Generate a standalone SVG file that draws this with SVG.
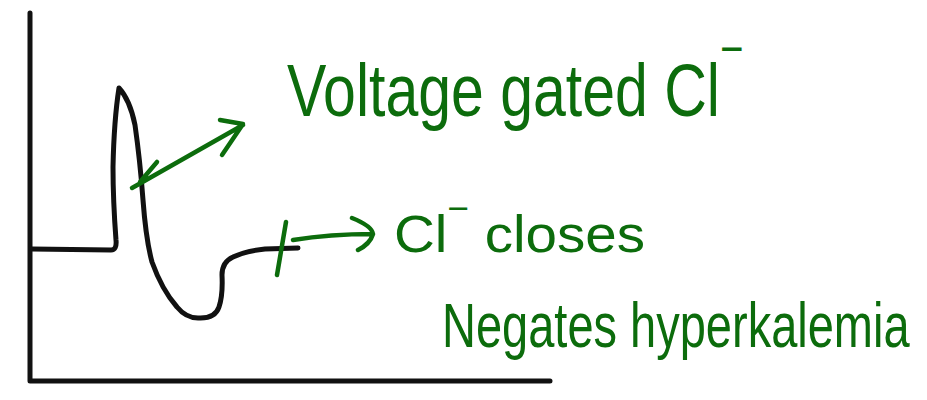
<svg xmlns="http://www.w3.org/2000/svg" width="927" height="400" viewBox="0 0 927 400">
<style>
.ink{fill:none;stroke:#111;stroke-width:5;stroke-linecap:round;stroke-linejoin:round}
.g{fill:none;stroke:#0c6c0c;stroke-width:4.5;stroke-linecap:round;stroke-linejoin:round}
.lbl{font-family:"Liberation Sans","DejaVu Sans",sans-serif;fill:#0c6c0c}
</style>
<rect width="927" height="400" fill="#fff"/>
<g id="axes">
<path class="ink" d="M30,13 L30,381 L550,381"/>
</g>
<g id="trace">
<path class="ink" d="M32,249 L111,250 Q117,250 116,240 Q113,200 113,167 Q114,120 119,88 Q130,100 135,125 Q140,160 143,200 Q146,240 152,262 Q162,290 177,307 Q186,318 198,318 Q215,319 219,307 Q223,295 222,275 Q222,262 233,257 Q245,251 265,249 L298,248"/>
</g>
<g id="connectors">
<path class="g" d="M132,188 Q190,155 243,125 M220,120 L243,124 L222,155 M157,162 L140,182"/>
<path class="g" d="M293,240 Q330,234 373,234 M352,218 Q372,226 373,234 Q370,244 358,250 M286,222 L277,275"/>
</g>
<g id="label-voltage">
<text class="lbl" font-size="59" transform="translate(287,116) scale(1,1.25)">Voltage gated Cl<tspan dy="-40" font-size="40">−</tspan></text>
</g>
<g id="label-closes">
<text class="lbl" font-size="52" x="394" y="252" textLength="251" lengthAdjust="spacingAndGlyphs">Cl<tspan dy="-32" font-size="34">−</tspan><tspan dy="32"> closes</tspan></text>
</g>
<g id="label-negates">
<text class="lbl" font-size="47" transform="translate(442,347) scale(1,1.35)">Negates hyperkalemia</text>
</g>
</svg>
